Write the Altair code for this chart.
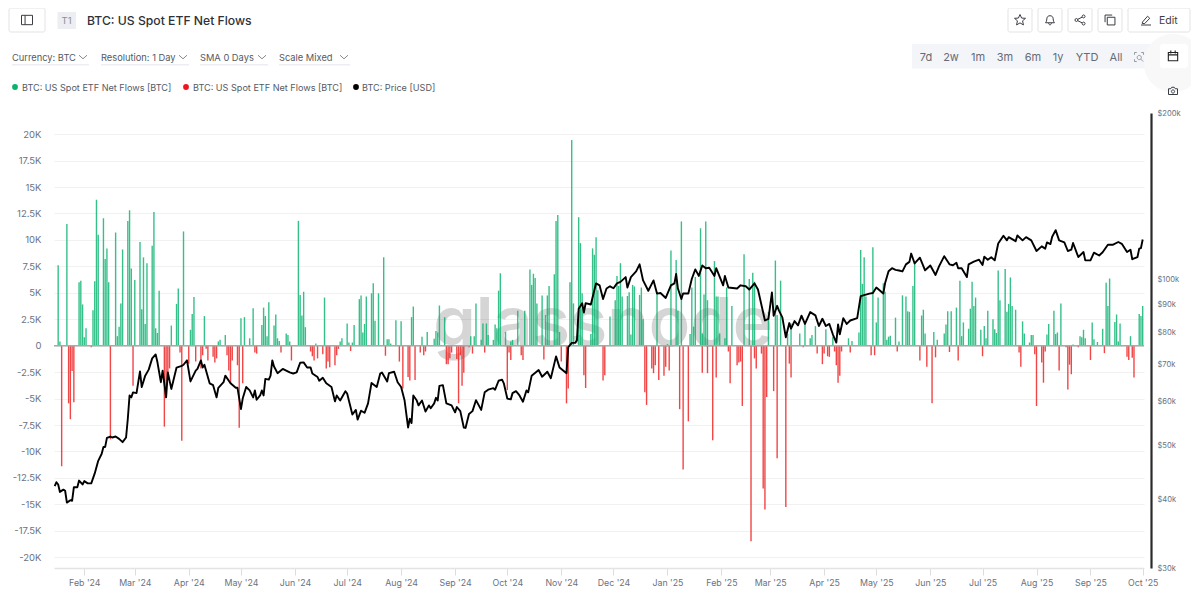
import altair as alt
import pandas as pd

# ---------- data (days counted from 2024-01-15) ----------
START = pd.Timestamp("2024-01-15", tz="UTC")

inflow_days = [
    2, 3, 7, 14, 15, 16, 17, 18, 22, 23,
    24, 25, 28, 29, 30, 31, 35, 36, 37, 38,
    39, 42, 43, 44, 46, 49, 50, 51, 52, 53,
    56, 57, 58, 59, 60, 67, 70, 71, 74, 78,
    79, 80, 86, 94, 95, 98, 107, 109, 112, 114,
    119, 120, 121, 122, 123, 126, 127, 128, 129, 133,
    134, 135, 140, 141, 142, 143, 144, 150, 155, 164,
    165, 168, 169, 171, 172, 175, 176, 177, 178, 179,
    182, 183, 184, 186, 189, 191, 192, 193, 196, 199,
    205, 206, 211, 214, 218, 219, 220, 221, 224, 239,
    241, 242, 245, 246, 248, 249, 252, 253, 254, 255,
    256, 259, 262, 263, 266, 270, 273, 274, 275, 276,
    277, 280, 282, 283, 284, 287, 288, 289, 290, 296,
    297, 298, 301, 302, 303, 308, 309, 310, 311, 312,
    319, 322, 323, 324, 325, 326, 329, 330, 331, 332,
    333, 336, 337, 338, 346, 352, 354, 357, 358, 360,
    365, 366, 367, 368, 371, 372, 373, 374, 375, 379,
    380, 381, 382, 385, 386, 389, 396, 399, 401, 402,
    410, 414, 415, 417, 421, 423, 428, 431, 434, 435,
    437, 443, 447, 456, 458, 462, 463, 464, 465, 466,
    470, 472, 473, 476, 477, 478, 479, 480, 483, 485,
    487, 489, 490, 491, 493, 494, 498, 499, 500, 505,
    507, 511, 512, 513, 515, 518, 520, 521, 522, 525,
    526, 527, 528, 529, 532, 534, 535, 536, 539, 540,
    541, 542, 543, 546, 547, 548, 549, 550, 552, 556,
    557, 560, 561, 562, 570, 571, 574, 575, 576, 578,
    585, 589, 590, 591, 592, 596, 597, 599, 602, 604,
    605, 606, 609, 610, 611, 612, 618, 623, 624, 625,
]
inflow_kbtc = [
    7.6, 0.4, 11.5, 6.0, 6.15, 3.9, 0.8, 1.65, 3.35, 6.1,
    13.8, 10.5, 12.05, 8.2, 9.2, 6.0, 10.7, 0.9, 1.8, 4.0,
    9.1, 11.8, 12.8, 7.3, 6.2, 9.8, 3.45, 8.35, 2.05, 7.8,
    9.45, 12.65, 1.65, 1.2, 5.2, 1.9, 3.95, 5.4, 10.8, 1.5,
    3.0, 4.6, 2.8, 0.4, 0.55, 1.0, 2.6, 2.7, 0.7, 3.55,
    1.95, 3.6, 2.8, 0.9, 4.1, 1.9, 2.95, 0.7, 0.45, 1.15,
    1.0, 0.4, 11.8, 4.8, 2.85, 5.1, 1.75, 0.2, 4.55, 0.4,
    0.7, 2.1, 0.3, 0.3, 1.95, 4.4, 4.75, 1.25, 2.05, 4.65,
    4.95, 5.9, 2.35, 4.95, 8.35, 0.6, 0.6, 0.2, 2.4, 2.3,
    2.7, 3.7, 0.85, 1.3, 0.65, 1.4, 1.25, 3.8, 2.7, 0.9,
    0.9, 4.0, 0.55, 2.1, 2.1, 1.0, 0.55, 2.0, 1.65, 5.2,
    6.85, 1.3, 0.4, 0.55, 3.3, 3.3, 7.2, 5.75, 6.8, 6.4,
    4.0, 4.75, 2.9, 4.75, 5.65, 6.75, 11.8, 12.35, 1.3, 6.0,
    19.45, 4.0, 12.15, 9.7, 4.95, 1.1, 9.2, 8.6, 10.25, 5.25,
    2.75, 4.3, 6.6, 5.65, 7.8, 4.65, 4.7, 5.05, 1.05, 5.75,
    5.6, 4.8, 5.5, 2.5, 4.95, 0.15, 9.0, 8.1, 3.3, 11.75,
    1.1, 5.5, 1.8, 6.5, 11.1, 1.15, 4.85, 11.75, 4.3, 8.0,
    4.65, 4.65, 1.15, 0.7, 5.5, 3.75, 8.65, 6.3, 6.9, 6.05,
    3.2, 8.05, 2.9, 6.15, 1.1, 2.1, 1.15, 2.3, 0.7, 1.0,
    1.85, 1.55, 0.85, 0.7, 0.45, 1.25, 9.05, 5.85, 8.35, 4.65,
    9.3, 2.2, 4.55, 5.9, 5.1, 0.55, 0.85, 0.95, 2.65, 0.4,
    4.76, 4.65, 3.25, 3.2, 5.65, 7.85, 2.85, 3.4, 1.15, 1.3,
    0.55, 1.15, 2.0, 3.25, 3.25, 3.6, 6.15, 0.9, 2.2, 1.6,
    3.5, 6.05, 3.75, 4.55, 1.5, 1.85, 0.7, 3.3, 2.5, 1.55,
    1.2, 7.1, 4.3, 7.25, 3.2, 3.95, 6.45, 3.75, 3.4, 2.3,
    1.15, 0.3, 1.0, 1.0, 1.05, 2.05, 3.3, 1.1, 1.25, 4.0,
    0.1, 0.9, 0.8, 1.5, 0.7, 2.2, 0.6, 0.35, 1.6, 5.95,
    3.75, 6.35, 2.25, 2.95, 0.4, 2.1, 0.9, 3.0, 2.8, 3.75,
]

outflow_days = [
    4, 8, 9, 10, 11, 21, 32, 45, 63, 64,
    65, 66, 72, 73, 77, 81, 84, 85, 87, 88,
    91, 92, 93, 99, 100, 101, 102, 105, 106, 108,
    115, 116, 130, 136, 147, 148, 149, 151, 154, 156,
    157, 158, 161, 162, 163, 170, 190, 198, 200, 203,
    204, 207, 210, 212, 213, 225, 226, 227, 228, 231,
    232, 233, 234, 235, 238, 240, 247, 260, 261, 262,
    268, 269, 281, 291, 294, 295, 304, 305, 315, 316,
    339, 340, 343, 344, 345, 347, 350, 351, 353, 359,
    361, 364, 372, 375, 378, 380, 387, 388, 392, 393,
    394, 395, 400, 402, 403, 406, 407, 408, 409, 413,
    415, 420, 422, 423, 430, 438, 441, 442, 444, 445,
    448, 449, 450, 451, 452, 457, 469, 471, 484, 497,
    501, 504, 506, 514, 519, 533, 554, 555, 563, 564,
    567, 568, 569, 577, 581, 582, 583, 584, 588, 595,
    603, 616, 617, 619, 620,
]
outflow_kbtc = [
    -11.4, -5.45, -6.95, -2.4, -5.35, -0.15, -8.85, -3.8, -7.65, -4.9,
    -2.6, -2.15, -0.65, -9.0, -1.7, -1.5, -2.15, -0.9, -0.3, -1.4,
    -1.05, -1.6, -1.2, -0.9, -2.35, -3.55, -1.4, -1.85, -7.75, -3.55,
    -0.65, -0.75, -0.65, -1.4, -0.55, -1.0, -1.4, -1.2, -0.8, -2.15,
    -1.5, -2.05, -1.85, -0.9, -0.3, -0.5, -0.95, -1.5, -4.05, -2.95,
    -3.3, -3.25, -0.65, -0.9, -0.55, -1.75, -1.75, -1.2, -0.65, -1.25,
    -5.45, -0.9, -3.8, -2.55, -0.15, -0.75, -0.65, -4.2, -0.65, -1.35,
    -0.9, -1.35, -1.3, -1.5, -5.45, -4.05, -2.8, -4.0, -3.3, -2.8,
    -4.4, -5.6, -2.15, -2.6, -1.85, -3.25, -2.85, -2.0, -2.35, -6.0,
    -11.7, -7.15, -2.55, -2.6, -8.95, -3.0, -0.55, -3.55, -1.85, -1.6,
    -1.5, -5.7, -18.5, -1.2, -2.15, -0.75, -13.5, -15.5, -4.85, -4.3,
    -10.65, -15.25, -1.7, -3.0, -0.15, -0.75, -1.75, -0.75, -1.0, -1.05,
    -0.55, -1.85, -3.5, -2.85, -0.55, -0.65, -0.9, -0.9, -0.55, -1.4,
    -2.0, -5.45, -1.1, -0.6, -1.4, -1.0, -0.65, -2.0, -0.8, -5.7,
    -1.6, -3.5, -0.55, -2.35, -0.15, -4.15, -1.8, -2.7, -0.15, -1.35,
    -0.7, -1.05, -1.35, -1.15, -3.0,
]

price_days = [
    0, 1, 2, 3, 5, 6, 7, 9, 10, 11,
    13, 14, 16, 17, 19, 21, 23, 25, 27, 28,
    29, 30, 32, 33, 35, 37, 39, 41, 42, 43,
    44, 45, 47, 49, 50, 52, 54, 56, 58, 59,
    61, 62, 64, 65, 67, 70, 73, 74, 76, 78,
    81, 82, 84, 85, 86, 89, 91, 93, 94, 97,
    98, 101, 104, 105, 107, 108, 110, 112, 114, 115,
    116, 118, 119, 120, 121, 123, 124, 125, 126, 128,
    131, 133, 135, 137, 139, 141, 143, 145, 147, 148,
    151, 152, 154, 156, 159, 161, 162, 164, 167, 168,
    171, 173, 174, 176, 178, 180, 182, 185, 187, 188,
    191, 192, 195, 197, 199, 201, 203, 204, 205, 206,
    208, 209, 211, 213, 215, 216, 218, 219, 220, 221,
    223, 225, 228, 230, 231, 233, 235, 236, 238, 240,
    242, 245, 247, 249, 252, 253, 255, 257, 258, 260,
    262, 263, 265, 267, 269, 271, 272, 274, 278, 280,
    283, 285, 288, 290, 294, 295, 297, 299, 300, 301,
    303, 304, 305, 308, 309, 311, 313, 315, 317, 319,
    321, 323, 325, 328, 329, 331, 334, 336, 338, 341,
    344, 346, 348, 351, 354, 356, 357, 358, 360, 361,
    364, 366, 368, 370, 372, 374, 376, 379, 380, 384,
    385, 387, 392, 394, 397, 399, 402, 404, 408, 410,
    412, 413, 415, 416, 418, 420, 422, 423, 425, 427,
    429, 431, 434, 437, 439, 441, 443, 445, 447, 449,
    450, 451, 453, 455, 457, 461, 463, 468, 470, 472,
    476, 477, 479, 481, 483, 485, 487, 489, 491, 492,
    494, 497, 498, 500, 503, 506, 508, 511, 514, 516,
    518, 519, 521, 524, 525, 528, 531, 533, 534, 536,
    538, 540, 542, 545, 547, 548, 552, 553, 556, 558,
    561, 564, 567, 569, 570, 572, 573, 575, 577, 580,
    582, 584, 585, 588, 591, 592, 595, 597, 600, 602,
    605, 608, 611, 613, 616, 618, 619, 622, 623, 624,
    625,
]
price_kusd = [
    42.2, 42.9, 42.5, 41.2, 41.6, 41.4, 39.4, 39.8, 39.7, 42.0,
    42.0, 43.2, 42.5, 43.1, 42.7, 42.7, 44.5, 46.9, 48.3, 49.7,
    49.7, 51.6, 51.9, 51.7, 51.9, 51.4, 50.7, 51.7, 55.9, 61.6,
    61.1, 62.4, 62.2, 68.1, 63.8, 66.9, 68.6, 71.9, 73.1, 70.8,
    65.1, 68.3, 61.1, 67.8, 63.3, 69.2, 69.7, 70.0, 71.3, 65.3,
    68.3, 68.8, 71.3, 69.2, 70.0, 64.8, 64.3, 61.1, 63.6, 65.1,
    66.9, 64.8, 63.6, 63.6, 58.2, 60.8, 63.8, 62.9, 61.1, 62.9,
    60.5, 61.6, 62.9, 61.6, 66.0, 65.8, 66.9, 71.3, 69.5, 67.6,
    68.8, 68.3, 67.8, 67.5, 67.8, 70.6, 70.7, 69.2, 69.2, 67.5,
    66.5, 65.5, 66.3, 64.8, 63.8, 60.1, 61.6, 60.3, 62.7, 62.1,
    56.9, 58.0, 55.7, 57.8, 57.3, 59.6, 64.9, 63.8, 67.5, 67.8,
    65.3, 67.6, 68.0, 65.1, 63.8, 60.3, 53.9, 55.9, 54.9, 61.6,
    60.3, 59.1, 60.3, 57.6, 59.1, 58.4, 59.6, 61.0, 60.3, 64.1,
    64.3, 59.6, 59.1, 57.4, 58.7, 57.7, 53.9, 53.8, 57.0, 57.7,
    60.4, 58.0, 62.4, 63.1, 63.5, 63.1, 65.5, 65.8, 64.8, 60.8,
    60.6, 62.2, 62.7, 61.6, 60.0, 62.9, 62.4, 66.9, 68.5, 66.6,
    68.0, 66.2, 72.5, 69.2, 67.6, 75.3, 76.7, 76.7, 77.5, 88.4,
    90.5, 87.0, 90.5, 90.0, 92.8, 98.3, 97.5, 92.1, 96.2, 97.1,
    96.3, 98.3, 98.9, 100.9, 96.6, 100.9, 103.3, 106.4, 99.5, 95.3,
    99.5, 94.2, 94.4, 92.5, 97.5, 98.3, 102.2, 96.2, 92.1, 94.2,
    94.2, 100.2, 104.2, 101.4, 105.9, 104.7, 104.9, 101.4, 104.7, 97.5,
    101.4, 96.6, 96.2, 97.5, 97.1, 95.8, 98.3, 95.8, 84.2, 84.8,
    94.6, 85.9, 89.5, 87.8, 85.3, 78.5, 83.3, 81.4, 84.0, 82.5,
    85.9, 83.0, 87.2, 86.0, 82.3, 84.8, 82.3, 83.0, 79.5, 76.8,
    82.8, 79.5, 85.0, 83.0, 84.2, 85.0, 93.2, 94.2, 94.4, 96.6,
    94.2, 98.3, 103.4, 104.7, 104.0, 103.7, 103.3, 106.4, 107.5, 111.3,
    106.8, 109.4, 107.5, 103.8, 105.9, 101.8, 105.5, 110.1, 106.4, 106.0,
    107.1, 104.7, 104.7, 100.9, 106.4, 107.6, 108.5, 106.1, 109.9, 108.5,
    109.6, 108.2, 116.1, 119.9, 117.6, 119.2, 117.2, 120.0, 117.6, 119.2,
    117.6, 112.5, 114.7, 113.6, 116.6, 115.8, 119.4, 122.7, 117.6, 116.6,
    112.5, 113.1, 116.3, 109.7, 112.0, 108.2, 108.2, 111.7, 110.4, 111.9,
    115.5, 115.5, 116.8, 115.9, 112.0, 113.1, 108.7, 109.7, 113.6, 113.9,
    118.0,
]

flow_ticks = [20, 17.5, 15, 12.5, 10, 7.5, 5, 2.5, 0, -2.5, -5, -7.5, -10, -12.5, -15, -17.5, -20]
price_ticks = [200000, 100000, 90000, 80000, 70000, 60000, 50000, 40000, 30000]
month_ticks = pd.date_range("2024-02-01", "2025-10-01", freq="MS", tz="UTC")

title_text = "BTC: US Spot ETF Net Flows"
selectors = ["Currency: BTC", "Resolution: 1 Day", "SMA 0 Days", "Scale Mixed"]
ranges = ["7d", "2w", "1m", "3m", "6m", "1y", "YTD", "All"]
legend_labels = ["BTC: US Spot ETF Net Flows [BTC]", "BTC: US Spot ETF Net Flows [BTC]", "BTC: Price [USD]"]

GREEN, RED, BLACK = "#0ab26f", "#ef1c1c", "#000000"
FONT = "Inter"


def ms(ts):
    return int(ts.timestamp() * 1000)


def day_ms(days):
    return [ms(START + pd.Timedelta(days=int(d))) for d in days]


flows = pd.DataFrame({
    "t": day_ms(inflow_days) + day_ms(outflow_days),
    "v": inflow_kbtc + outflow_kbtc,
    "side": ["in"] * len(inflow_days) + ["out"] * len(outflow_days),
})
prices = pd.DataFrame({"t": day_ms(price_days), "p": [k * 1000 for k in price_kusd]})

x_scale = alt.Scale(
    type="utc", nice=False, padding=0,
    domain=[ms(START - pd.Timedelta(hours=9.6)), ms(START - pd.Timedelta(hours=9.6) + pd.Timedelta(days=626.15))],
)
flow_scale = alt.Scale(domain=[-21.02, 22.0], nice=False, zero=False)
price_scale = alt.Scale(type="log", domain=[30000, 200000], nice=False)

x_axis = alt.Axis(
    values=[ms(t) for t in month_ticks], labelExpr="utcFormat(datum.value, \"%b '%y\")",
    title=None, grid=False, domainColor="#e4e4e6", domainWidth=1.5, tickColor="#dddddf", tickSize=7,
    labelColor="#6b7280", labelFont=FONT, labelFontSize=8.8, labelPadding=3, labelOverlap=False, labelFlush=False,
)

bars = alt.Chart(flows).mark_bar(size=1.4, opacity=0.82).encode(
    x=alt.X("t:T", scale=x_scale, axis=x_axis),
    y=alt.Y("v:Q", scale=flow_scale, axis=alt.Axis(
        values=flow_ticks, title=None, ticks=False, domain=False,
        gridColor="#f1f1f2", gridWidth=1.2, labelColor="#6b7280", labelFont=FONT, labelFontSize=9.5,
        labelPadding=13, labelExpr="datum.value == 0 ? '0' : datum.value + 'K'", labelOverlap=False,
    )),
    color=alt.Color("side:N", scale=alt.Scale(domain=["in", "out"], range=[GREEN, RED]), legend=None),
)
zero_line = alt.Chart(alt.Data(values=[{"z": 0}])).mark_rule(color="#a9a9ab", strokeWidth=1.5).encode(
    y=alt.Y("z:Q", scale=flow_scale, axis=None)
)
line = alt.Chart(prices).mark_line(color=BLACK, strokeWidth=1.9, strokeJoin="round").encode(
    x=alt.X("t:T", scale=x_scale),
    y=alt.Y("p:Q", scale=price_scale, axis=alt.Axis(
        orient="right", values=price_ticks, title=None, ticks=False, grid=False, offset=7,
        domainColor="#2a2a2a", domainWidth=2.2, labelColor="#6b7280", labelFont=FONT, labelFontSize=7.6,
        labelPadding=6, labelExpr="'$' + datum.value / 1000 + 'k'", labelOverlap=False,
    )),
)

# ---------- page furniture, placed in page pixels ----------
OX, OY = 54, 113
one = alt.Data(values=[{"_": 1}])


def text(s, x, y, size=10.5, color="#555a63", align="left", weight=400, opacity=1.0):
    return alt.Chart(one).mark_text(
        align=align, baseline="middle", font=FONT, fontSize=size, fontWeight=weight, color=color, opacity=opacity
    ).encode(x=alt.value(x - OX), y=alt.value(y + 0.7 - OY), text=alt.value(s))


def box(x0, y0, x1, y1, fill="#ffffff", stroke=None, radius=2, width=1):
    kw = {"stroke": stroke, "strokeWidth": width} if stroke else {}
    return alt.Chart(one).mark_rect(fill=fill, cornerRadius=radius, **kw).encode(
        x=alt.value(x0 - OX), x2=alt.value(x1 - OX), y=alt.value(y0 - OY), y2=alt.value(y1 - OY)
    )


def dot(x, y, d, color):
    return alt.Chart(one).mark_point(filled=True, shape="circle", size=3.14 * d * d / 4, color=color, opacity=1).encode(
        x=alt.value(x - OX), y=alt.value(y - OY)
    )


def icon(path, x, y, d, color="#3a3d44", width=1.0):
    return alt.Chart(one).mark_point(
        shape=path, size=d * d, filled=False, stroke=color, strokeWidth=width, opacity=1
    ).encode(x=alt.value(x - OX), y=alt.value(y - OY))


def ring(cx, cy, r):
    return f"M{cx - r},{cy} a{r},{r} 0 1,0 {2 * r},0 a{r},{r} 0 1,0 {-2 * r},0 "


STAR = "M0,-1 L0.29,-0.35 1,-0.31 0.47,0.15 0.62,0.9 0,0.52 -0.62,0.9 -0.47,0.15 -1,-0.31 -0.29,-0.35 Z"
BELL = "M-0.8,0.5 C-0.55,0.2 -0.6,-0.2 -0.55,-0.4 C-0.45,-0.9 0.45,-0.9 0.55,-0.4 C0.6,-0.2 0.55,0.2 0.8,0.5 Z M-0.25,0.55 C-0.2,1 0.2,1 0.25,0.55"
SHARE = ring(-0.65, 0, 0.27) + ring(0.65, -0.65, 0.27) + ring(0.65, 0.65, 0.27) + "M-0.4,-0.13 L0.4,-0.52 M-0.4,0.13 L0.4,0.52"
COPY = "M-0.5,-0.5 H0.9 V0.9 H-0.5 Z M-0.9,0.4 V-0.9 H0.4"
PANEL = "M-1,-0.85 H1 V0.85 H-1 Z M-0.35,-0.85 V0.85"
PENCIL = "M-0.7,0.4 L0.3,-0.75 L0.75,-0.35 L-0.25,0.7 L-0.75,0.7 Z M-1,1 H1"
CALENDAR = "M-0.85,-0.65 H0.85 V0.85 H-0.85 Z M-0.85,-0.2 H0.85 M-0.4,-1 V-0.45 M0.4,-1 V-0.45"
CAMERA = "M-0.9,-0.45 H-0.45 L-0.25,-0.75 H0.25 L0.45,-0.45 H0.9 V0.7 H-0.9 Z " + ring(0, 0.1, 0.32)
LENS = "M-0.9,-0.45 V-0.9 H-0.45 M0.45,-0.9 H0.9 V-0.45 M-0.9,0.45 V0.9 H-0.45 " + ring(0.05, 0.1, 0.42) + "M0.35,0.42 L0.85,0.92"
CHEVRON = "M-1,-0.45 L0,0.45 L1,-0.45"

furniture = [
    text(title_text, 87, 20, size=12.2, color="#2d3139", weight=500),
    box(9, 8, 45, 32, stroke="#e3e3e6"),
    icon(PANEL, 27, 20, 11),
    box(57.5, 12, 76, 29, fill="#eceef2", radius=1),
    text("T1", 66.5, 20.5, size=9.5, color="#8a8f98", align="center"),
]
for (label, tx, cx, ux0, ux1) in zip(
    selectors, [12, 101, 200, 279], [83, 183, 262, 344], [12, 101, 200, 279], [89, 189, 268, 350]
):
    furniture += [
        box(ux0, 64, ux1, 65.5, fill="#eceef1", radius=0),
        text(label, tx, 57, size=9.3),
        icon(CHEVRON, cx, 57, 8, color="#777b83", width=0.9),
    ]
for (label, tx, dx, color) in zip(legend_labels, [22, 193, 362], [15, 186, 356], [GREEN, "#f0141e", BLACK]):
    furniture += [dot(dx, 87, 6.5, color), text(label, tx, 87, size=9.1)]

for (x0, x1, path) in [(1008, 1032, STAR), (1038, 1062, BELL), (1068, 1092, SHARE), (1098, 1122, COPY)]:
    furniture += [box(x0, 8, x1, 32, stroke="#e3e3e6"), icon(path, (x0 + x1) / 2, 20, 11)]
furniture += [
    box(1128, 8, 1190, 32, stroke="#e3e3e6"),
    icon(PENCIL, 1146, 20, 10),
    text("Edit", 1159, 20, size=10.5, color="#3a3d44"),
    box(912, 44, 1153, 68.5, fill="#f4f5f8", radius=0),
]
for (label, tx) in zip(ranges, [926, 951, 978, 1005, 1033, 1058, 1087, 1116]):
    furniture.append(text(label, tx, 57, size=11, color="#666b74", align="center"))
furniture += [
    icon(LENS, 1139, 57, 10, color="#8a8f98", width=0.9),
    dot(1173, 63, 66, "#f8f8f9"),
    box(1160, 44, 1188, 68, fill="#ffffff", radius=3),
    icon(CALENDAR, 1173, 56, 11, color="#222", width=1.1),
    icon(CAMERA, 1173, 91, 10, color="#3a3d44"),
]

watermark = text("glassnode", 603, 325, size=68, color="#000000", align="center", weight=600, opacity=0.16)

chart = alt.layer(
    watermark, bars, zero_line, line, *furniture
).resolve_scale(y="independent").properties(
    width=1090, height=455,
    padding={"left": 46, "top": 105, "right": 47, "bottom": 22},
    autosize=alt.AutoSizeParams(type="none"),
    background="#ffffff",
).configure_view(stroke=None)

chart.save("out.html", embed_options={"renderer": "svg", "actions": False})
